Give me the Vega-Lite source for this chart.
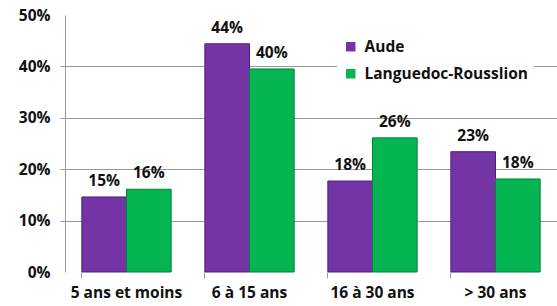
{
  "$schema": "https://vega.github.io/schema/vega-lite/v6.json",
  "width": 492,
  "height": 257,
  "autosize": {"type": "none"},
  "padding": {"left": 65, "top": 15, "right": 0, "bottom": 34},
  "background": "white",
  "config": {
    "view": {"stroke": null},
    "font": "Open Sans"
  },
  "data": {
    "values": [
      {"age": "5 ans et moins", "zone": "Aude", "value": 0.146},
      {"age": "5 ans et moins", "zone": "Languedoc-Rousslion", "value": 0.161},
      {"age": "6 à 15 ans", "zone": "Aude", "value": 0.444},
      {"age": "6 à 15 ans", "zone": "Languedoc-Rousslion", "value": 0.395},
      {"age": "16 à 30 ans", "zone": "Aude", "value": 0.177},
      {"age": "16 à 30 ans", "zone": "Languedoc-Rousslion", "value": 0.261},
      {"age": "> 30 ans", "zone": "Aude", "value": 0.234},
      {"age": "> 30 ans", "zone": "Languedoc-Rousslion", "value": 0.181}
    ]
  },
  "encoding": {
    "x": {
      "field": "age",
      "type": "nominal",
      "sort": ["5 ans et moins", "6 à 15 ans", "16 à 30 ans", "> 30 ans"],
      "scale": {"paddingInner": 0.274, "paddingOuter": 0.137},
      "axis": {
        "title": null,
        "domain": false,
        "ticks": true,
        "bandPosition": 0,
        "tickSize": 6,
        "tickColor": "#999999",
        "labelAngle": 0,
        "labelFontSize": 15.5,
        "labelFontWeight": "bold",
        "labelColor": "#111111",
        "labelPadding": 7,
        "grid": false
      }
    },
    "xOffset": {
      "field": "zone",
      "type": "nominal",
      "sort": ["Aude", "Languedoc-Rousslion"]
    },
    "y": {
      "field": "value",
      "type": "quantitative",
      "scale": {"domain": [0, 0.5], "nice": false},
      "axis": {
        "title": null,
        "format": ".0%",
        "values": [0, 0.1, 0.2, 0.3, 0.4, 0.5],
        "domainColor": "#999999",
        "tickColor": "#999999",
        "tickSize": 5,
        "tickOpacity": {"condition": {"test": "datum.value == 0 || datum.value == 0.5", "value": 0}, "value": 1},
        "grid": true,
        "gridColor": "#999999",
        "gridOpacity": {"condition": {"test": "datum.value == 0 || datum.value == 0.5", "value": 0}, "value": 1},
        "labelFontSize": 15.5,
        "labelFontWeight": "bold",
        "labelColor": "#111111",
        "labelPadding": 10
      }
    }
  },
  "layer": [
    {
      "mark": {"type": "bar", "strokeWidth": 1},
      "encoding": {
        "color": {
          "field": "zone",
          "type": "nominal",
          "sort": ["Aude", "Languedoc-Rousslion"],
          "scale": {"domain": ["Aude", "Languedoc-Rousslion"], "range": ["#7434a6", "#05b552"]},
          "legend": {
            "title": null,
            "orient": "none",
            "legendX": 272,
            "legendY": 18,
            "fillColor": "white",
            "padding": 6,
            "symbolType": "square",
            "symbolSize": 90,
            "symbolStrokeWidth": 0,
            "labelFontSize": 15.5,
            "labelFontWeight": "bold",
            "labelColor": "#111111",
            "labelLimit": 300,
            "rowPadding": 10,
            "labelOffset": 6
          }
        },
        "stroke": {
          "field": "zone",
          "type": "nominal",
          "scale": {"domain": ["Aude", "Languedoc-Rousslion"], "range": ["#4e1f76", "#03823a"]},
          "legend": null
        }
      }
    },
    {
      "mark": {"type": "text", "baseline": "bottom", "dy": -8, "fontSize": 15.5, "fontWeight": "bold", "color": "#111111"},
      "encoding": {
        "text": {"field": "value", "type": "quantitative", "format": ".0%"}
      }
    }
  ]
}
